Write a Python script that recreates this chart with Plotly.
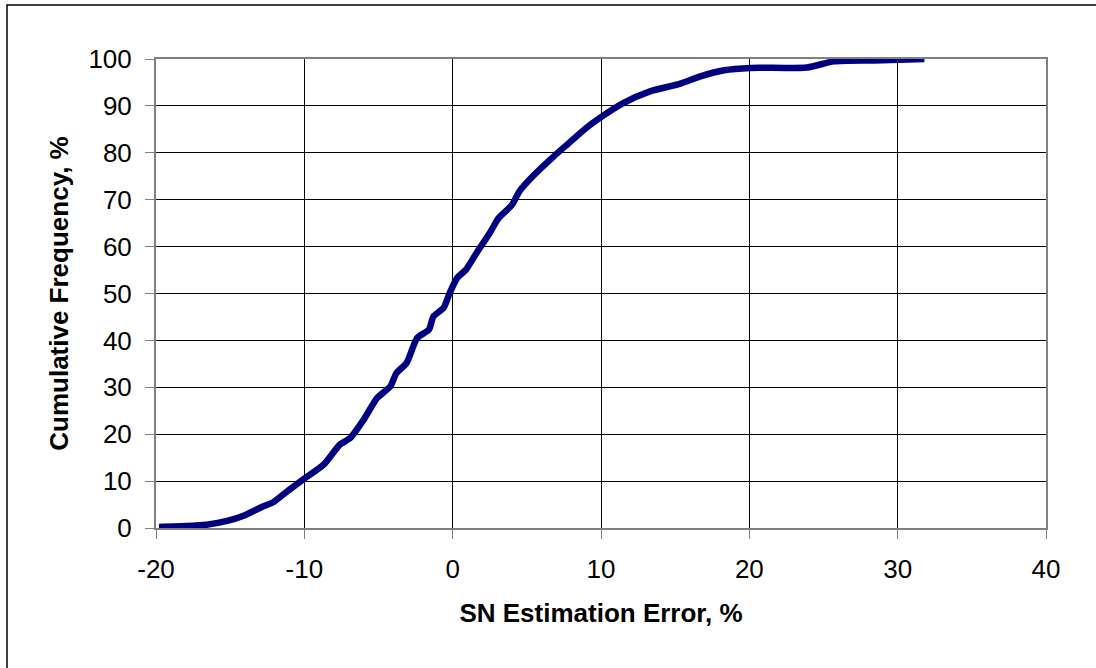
import plotly.graph_objects as go

# Data
error_pct = [-19.8, -18.0, -16.6, -15.2, -14.1, -12.8, -12.1, -11.0, -10.1, -8.7,
             -7.6, -6.9, -6.0, -5.1, -4.2, -3.8, -3.1, -2.4, -1.6, -1.3,
             -0.6, -0.2, 0.3, 0.9, 1.6, 2.5, 3.1, 4.0, 4.5, 5.4,
             6.8, 7.7, 9.0, 9.9, 11.5, 13.3, 15.3, 16.7, 18.3, 20.1,
             23.9, 25.7, 28.4, 31.8]
cum_freq = [0.2, 0.4, 0.7, 1.5, 2.6, 4.6, 5.5, 8.2, 10.3, 13.5,
            17.8, 19.2, 23.1, 27.7, 30.2, 33.0, 35.2, 40.5, 42.3, 45.1,
            47.0, 50.1, 53.3, 55.1, 58.6, 62.9, 66.1, 68.9, 71.8, 75.0,
            79.2, 81.7, 85.3, 87.4, 90.6, 93.1, 94.7, 96.3, 97.6, 98.1,
            98.2, 99.5, 99.7, 100.0]
x_ticks = [-20, -10, 0, 10, 20, 30, 40]
x_tick_labels = ["-20", "-10", "0", "10", "20", "30", "40"]
y_ticks = [0, 10, 20, 30, 40, 50, 60, 70, 80, 90, 100]

W, H = 1096, 668
L, R, T, B = 156, 50, 59, 140
pw, ph = W - L - R, H - T - B

font = "Arial, Liberation Sans, sans-serif"

fig = go.Figure()
fig.add_trace(go.Scatter(
    x=error_pct, y=cum_freq, mode="lines",
    line=dict(color="#000080", width=6.5, shape="spline", smoothing=0.6),
    showlegend=False, hoverinfo="x+y"))

axis_common = dict(
    showgrid=True, gridcolor="#000000", gridwidth=1,
    showline=True, linecolor="#808080", linewidth=2, mirror=True,
    ticks="outside", ticklen=9, tickcolor="#808080", tickwidth=1,
    zeroline=False,
    tickfont=dict(family=font, size=26, color="#000000"),
)

fig.update_xaxes(range=[-20, 40], tickvals=x_ticks, ticktext=x_tick_labels,
                 ticklabelstandoff=8, **axis_common,
                 title=dict(text="<b>SN Estimation Error, %</b>",
                            font=dict(family=font, size=26, color="#000000"),
                            standoff=21))
fig.update_yaxes(range=[0, 100], tickvals=y_ticks, ticklabelstandoff=8,
                 **axis_common,
                 title=dict(text="<b>Cumulative Frequency, %</b>",
                            font=dict(family=font, size=26, color="#000000"),
                            standoff=12))

# outer chart border (only left and top edges visible in frame)
fig.add_shape(type="rect", xref="paper", yref="paper",
              x0=(7 - L) / pw, x1=(W + 10 - L) / pw,
              y0=(H - B - (H + 10)) / ph, y1=(H - B - 5) / ph,
              line=dict(color="#000000", width=1.5), layer="below")

fig.update_layout(
    width=W, height=H,
    margin=dict(l=L, r=R, t=T, b=B),
    paper_bgcolor="#ffffff", plot_bgcolor="#ffffff",
    font=dict(family=font, color="#000000"),
)

fig.write_html("out.html", config={"displayModeBar": False},
               post_script="document.body.style.margin='0';document.body.style.overflow='hidden';")
